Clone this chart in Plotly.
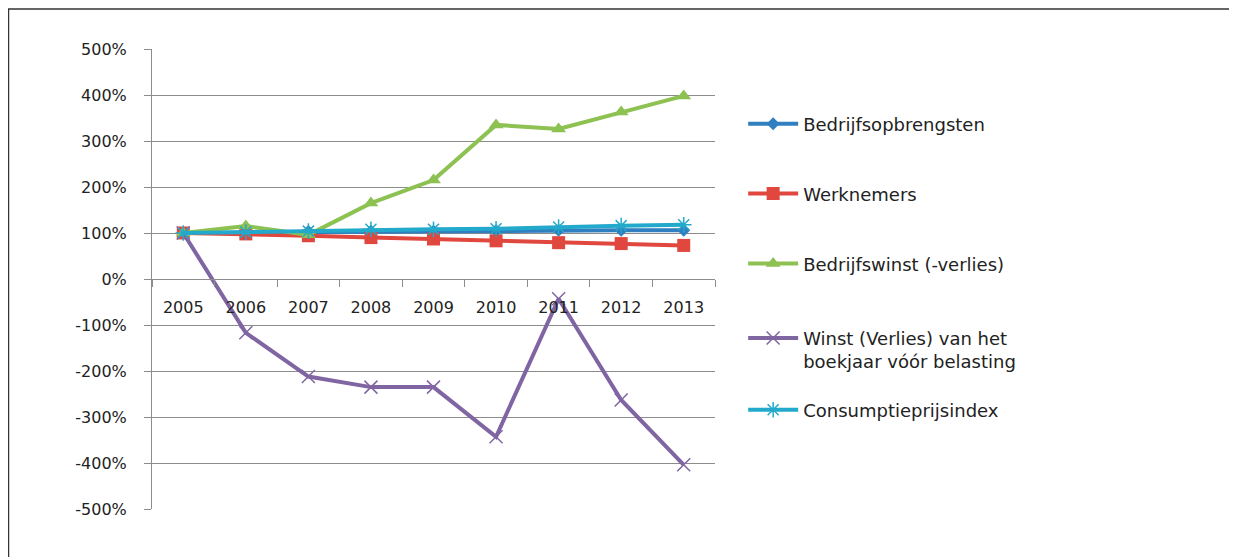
import plotly.graph_objects as go

years = ["2005", "2006", "2007", "2008", "2009", "2010", "2011", "2012", "2013"]
bedrijfsopbrengsten = [100, 101, 103, 104, 104, 105, 106, 106, 106]
werknemers = [100, 98, 94, 90, 87, 83, 79, 77, 73]
bedrijfswinst = [100, 115, 96, 165, 215, 335, 326, 363, 398]
winst_voor_belasting = [100, -117, -212, -235, -235, -343, -43, -263, -404]
consumptieprijsindex = [100, 102, 104, 108, 108, 109, 113, 116, 118]

y_ticks = list(range(-500, 501, 100))
y_tick_labels = [f"{v}%" for v in y_ticks]

series = [
    ("Bedrijfsopbrengsten", bedrijfsopbrengsten, "#2f7fc1", dict(symbol="diamond", size=10)),
    ("Werknemers", werknemers, "#e0473f", dict(symbol="square", size=13)),
    ("Bedrijfswinst (-verlies)", bedrijfswinst, "#8dc152", dict(symbol="triangle-up", size=13)),
    ("Winst (Verlies) van het<br>boekjaar vóór belasting", winst_voor_belasting, "#8065a3",
     dict(symbol="x-thin-open", size=13, line=dict(width=1.5))),
    ("Consumptieprijsindex", consumptieprijsindex, "#22a9cb",
     dict(symbol="asterisk-open", size=13, line=dict(width=1.5))),
]
legend_ids = ["legend", "legend2", "legend3", "legend4", "legend5"]
legend_y = [0.837, 0.685, 0.533, 0.346, 0.215]

fig = go.Figure()
for i, (name, vals, color, mk) in enumerate(series):
    marker = dict(color=color, **mk)
    if "line" in mk:
        marker["line"] = dict(color=color, width=mk["line"]["width"])
    fig.add_trace(go.Scatter(
        x=years, y=vals, name=name, mode="lines+markers",
        line=dict(color=color, width=4),
        marker=marker,
        legend=legend_ids[i],
    ))

# invisible helper trace so the label axis (x2) is rendered
fig.add_trace(go.Scatter(
    x=years, y=werknemers, xaxis="x2", mode="markers",
    marker=dict(opacity=0), showlegend=False, hoverinfo="skip",
))

font_family = "'DejaVu Sans', sans-serif"
legend_common = dict(
    x=1.05, xanchor="left", yanchor="middle",
    font=dict(family=font_family, size=18, color="#222222"),
    valign="top", itemwidth=50, bgcolor="rgba(0,0,0,0)",
)
legends = {}
for lid, ly in zip(legend_ids, legend_y):
    legends[lid] = dict(legend_common, y=ly)

fig.update_layout(
    width=1237, height=557,
    margin=dict(l=144, r=530, t=41, b=56, autoexpand=False),
    paper_bgcolor="white", plot_bgcolor="white",
    font=dict(family=font_family, size=16, color="#222222"),
    showlegend=True,
    xaxis=dict(
        type="category", range=[-0.5, 8.5],
        anchor="free", position=0.5,
        showline=True, linecolor="#8c8c8c", linewidth=1,
        ticks="outside", tickson="boundaries", ticklen=7, tickcolor="#8c8c8c",
        showticklabels=False,
        showgrid=False, zeroline=False,
    ),
    xaxis2=dict(
        type="category", range=[-0.5, 8.5], overlaying="x",
        anchor="free", position=0.462, side="bottom",
        showline=False, ticks="", showgrid=False, zeroline=False,
        tickfont=dict(size=16, color="#222222"),
    ),
    yaxis=dict(
        range=[-500, 500], tickvals=y_ticks, ticktext=y_tick_labels,
        showline=True, linecolor="#8c8c8c", linewidth=1,
        ticks="outside", ticklen=7, tickcolor="#8c8c8c",
        ticklabelstandoff=14,
        showgrid=True, gridcolor="#8c8c8c", gridwidth=1,
        zeroline=False, tickfont=dict(size=16, color="#222222"),
    ),
    shapes=[
        dict(type="rect", xref="paper", yref="paper",
             x0=-0.2549, x1=1.95, y0=-0.13, y1=1.087,
             line=dict(color="#333333", width=1.5), fillcolor="rgba(0,0,0,0)", layer="below"),
    ],
    **legends,
)

fig.write_html("out.html")
